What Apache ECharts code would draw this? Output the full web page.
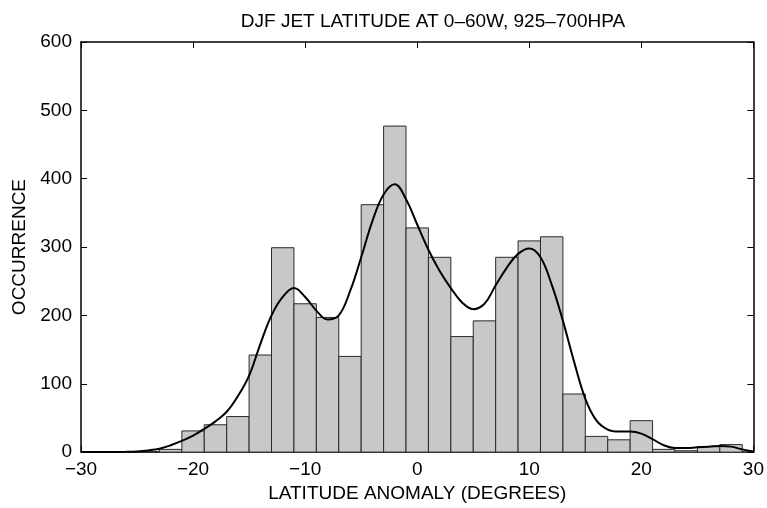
<!DOCTYPE html>
<html><head><meta charset="utf-8">
<script src="https://cdn.jsdelivr.net/npm/echarts@6/dist/echarts.min.js"></script>
<style>html,body{margin:0;padding:0;background:#fff}#c{width:767px;height:508px}</style>
</head><body><div id="c"></div>
<script>
const binCenters = [-24,-22,-20,-18,-16,-14,-12,-10,-8,-6,-4,-2,0,2,4,6,8,10,12,14,16,18,20,22,24,26,28];
const binCounts  = [0,4,31,40,52,142,299,217,197,140,362,477,328,285,169,192,285,309,315,85,23,18,46,4,2,8,11];
const binWidth = 2;
const curveX = [-30,-29,-28,-27,-26,-25,-24,-23,-22,-21,-20,-19,-18,-17,-16,-15,-14,-13,-12,-11,-10,-9,-8,-7,-6,-5,-4,-3,-2,-1,0,1,2,3,4,5,6,7,8,9,10,11,12,13,14,15,16,17,18,19,20,21,22,23,24,25,26,27,28,29,30];
const curveY = [0,0,0.1,0.2,0.5,1,2.5,5,10,16.5,24,34,45,59,82,112,158,200,227,240,227,207,194,200,235,285,338,377,392,370,333,296,265,240,219,209,217,244,270,290,298,285,245,192,132,78,46,33,30,30,27,19,10,6,6,7,8,9,8,4,1];
const xTicks = [-30,-20,-10,0,10,20,30];
const yTicks = [0,100,200,300,400,500,600];

const chart = echarts.init(document.getElementById('c'));
const FONT = '"Liberation Sans", Arial, sans-serif';
const FS = 19;
const minus = v => String(v).replace('-', '\u2212');
const axisLine = {show:true, onZero:false, lineStyle:{color:'#000', width:1.5}};
const tick = {show:true, inside:true, length:6, lineStyle:{color:'#000', width:1}};
chart.setOption({
  animation:false,
  backgroundColor:'#fff',
  title:{text:'DJF JET LATITUDE AT 0\u201360W, 925\u2013700HPA', left:428, top:7, textAlign:'center',
    textStyle:{fontFamily:FONT, fontSize:FS, fontWeight:'normal', color:'#000'}},
  grid:{left:81, right:12, top:42, bottom:54},
  xAxis:[
    {type:'value', min:-30, max:30, interval:10, position:'bottom',
     axisLine, axisTick:tick, splitLine:{show:false},
     axisLabel:{fontFamily:FONT, fontSize:FS, color:'#000', margin:8, formatter:minus},
     name:'LATITUDE ANOMALY (DEGREES)', nameLocation:'middle', nameGap:30,
     nameTextStyle:{fontFamily:FONT, fontSize:FS, color:'#000'}},
    {type:'value', min:-30, max:30, interval:10, position:'top',
     axisLine, axisTick:tick, axisLabel:{show:false}, splitLine:{show:false}}
  ],
  yAxis:[
    {type:'value', min:0, max:600, interval:100, position:'left',
     axisLine, axisTick:tick, splitLine:{show:false},
     axisLabel:{fontFamily:FONT, fontSize:FS, color:'#000', margin:9},
     name:'OCCURRENCE', nameLocation:'middle', nameGap:47,
     nameTextStyle:{fontFamily:FONT, fontSize:FS, color:'#000'}},
    {type:'value', min:0, max:600, interval:100, position:'right',
     axisLine, axisTick:tick, axisLabel:{show:false}, splitLine:{show:false}}
  ],
  series:[
    {type:'custom', xAxisIndex:0, yAxisIndex:0,
     data: binCenters.map((c,i)=>[c, binCounts[i]]),
     renderItem:(params, api)=>{
       const c = api.value(0), v = api.value(1);
       const p1 = api.coord([c - binWidth/2, v]);
       const p2 = api.coord([c + binWidth/2, 0]);
       return {type:'rect', shape:{x:p1[0], y:p1[1], width:p2[0]-p1[0], height:p2[1]-p1[1]},
         style:{fill:'#c8c8c8', stroke:'#2a2a2a', lineWidth:1}};
     }},
    {type:'line', xAxisIndex:0, yAxisIndex:0, data: curveX.map((x,i)=>[x, curveY[i]]),
     smooth:0.4, showSymbol:false, symbol:'none', lineStyle:{color:'#000', width:2}, z:5}
  ]
});
</script></body></html>
